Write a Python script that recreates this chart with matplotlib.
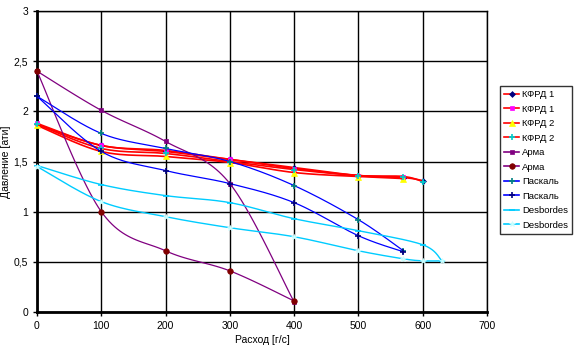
import numpy as np
import matplotlib
matplotlib.use("Agg")
import matplotlib.pyplot as plt
from matplotlib.lines import Line2D
from matplotlib.ticker import FixedLocator, FixedFormatter

plt.rcParams['font.family'] = ['Liberation Sans', 'DejaVu Sans']

# ---- data ----
kfrd1a_x = [0, 100, 200, 300, 400, 500, 570, 600]
kfrd1a_y = [1.87, 1.66, 1.60, 1.52, 1.44, 1.36, 1.34, 1.31]
kfrd1b_x = [0, 100, 200, 300, 400, 500, 570]
kfrd1b_y = [1.88, 1.66, 1.61, 1.52, 1.43, 1.36, 1.35]
kfrd2a_x = [0, 100, 200, 300, 400, 500, 570]
kfrd2a_y = [1.86, 1.60, 1.55, 1.49, 1.39, 1.35, 1.33]
kfrd2b_x = [0, 100, 200, 300, 400, 500, 570, 600]
kfrd2b_y = [1.87, 1.63, 1.58, 1.50, 1.42, 1.36, 1.35, 1.30]
arma1_x = [0, 100, 200, 300, 400]
arma1_y = [2.40, 2.01, 1.70, 1.28, 0.10]
arma2_x = [0, 100, 200, 300, 400]
arma2_y = [2.40, 1.00, 0.61, 0.41, 0.11]
pask1_x = [0, 100, 200, 300, 400, 500, 570]
pask1_y = [2.15, 1.78, 1.63, 1.50, 1.26, 0.92, 0.61]
pask2_x = [0, 100, 200, 300, 400, 500, 570]
pask2_y = [2.15, 1.60, 1.41, 1.28, 1.09, 0.76, 0.60]
desb1_x = [0, 100, 200, 300, 400, 500, 600, 630]
desb1_y = [1.46, 1.27, 1.16, 1.09, 0.93, 0.81, 0.67, 0.51]
desb2_x = [0, 100, 200, 300, 400, 500, 570, 600, 630]
desb2_y = [1.45, 1.10, 0.95, 0.84, 0.75, 0.61, 0.53, 0.51, 0.51]

x_ticks = [0, 100, 200, 300, 400, 500, 600, 700]
y_ticks = [0, 0.5, 1, 1.5, 2, 2.5, 3]
y_tick_labels = ['0', '0,5', '1', '1,5', '2', '2,5', '3']
x_label = 'Расход [г/с]'
y_label = 'Давление [ати]'


def smooth(xs, ys, n=24):
    """Excel-style smoothed line (cubic Bezier, tension 1/6)."""
    p = np.column_stack([xs, ys]).astype(float)
    m = len(p)
    out = [p[0]]
    t = np.linspace(0, 1, n + 1)[1:, None]
    for i in range(m - 1):
        p0 = p[i - 1] if i > 0 else p[i]
        p1, p2 = p[i], p[i + 1]
        p3 = p[i + 2] if i + 2 < m else p[i + 1]
        c1 = p1 + (p2 - p0) / 6.0
        c2 = p2 - (p3 - p1) / 6.0
        seg = ((1 - t) ** 3) * p1 + 3 * ((1 - t) ** 2) * t * c1 + 3 * (1 - t) * t ** 2 * c2 + t ** 3 * p2
        out.extend(seg)
    out = np.array(out)
    idx = list(range(0, len(out), n))
    return out[:, 0], out[:, 1], idx


fig = plt.figure(figsize=(5.8, 3.53), dpi=100)
ax = fig.add_axes([37 / 580, 41 / 353, 450 / 580, 301 / 353])

series = [
    ('КФРД 1', kfrd1a_x, kfrd1a_y, '#FF0000', 1.2, 'D', '#000080', 3),
    ('КФРД 1', kfrd1b_x, kfrd1b_y, '#FF0000', 1.2, 's', '#FF00FF', 3.5),
    ('КФРД 2', kfrd2a_x, kfrd2a_y, '#FF0000', 1.2, '^', '#FFFF00', 4.5),
    ('КФРД 2', kfrd2b_x, kfrd2b_y, '#FF0000', 1.2, '+', '#00CCCC', 5),
    ('Арма', arma1_x, arma1_y, '#800080', 0.9, 's', '#800080', 3),
    ('Арма', arma2_x, arma2_y, '#800080', 0.9, 'o', '#800000', 4),
    ('Паскаль', pask1_x, pask1_y, '#0000FF', 0.9, '+', '#008080', 4),
    ('Паскаль', pask2_x, pask2_y, '#0000FF', 0.9, '+', '#000080', 4),
    ('Desbordes', desb1_x, desb1_y, '#00CCFF', 1.0, '_', '#00CCFF', 5),
    ('Desbordes', desb2_x, desb2_y, '#00CCFF', 1.0, '*', '#CCFFFF', 4),
]

handles = []
for name, xs, ys, col, lw, mk, mc, ms in series:
    sx, sy, idx = smooth(xs, ys)
    ax.plot(sx, sy, color=col, lw=lw, marker=mk, markevery=idx, ms=ms,
            mfc=mc, mec=mc, mew=1.2 if mk in '+_' else 0.5, zorder=3, clip_on=False)
    handles.append(Line2D([], [], color=col, lw=1.2, marker=mk, ms=ms,
                          mfc=mc, mec=mc, mew=1.2 if mk in '+_' else 0.5))

ax.set_xlim(0, 700)
ax.set_ylim(0, 3)
ax.set_xticks(x_ticks)
ax.yaxis.set_major_locator(FixedLocator(y_ticks))
ax.yaxis.set_major_formatter(FixedFormatter(y_tick_labels))
ax.grid(True, color='black', lw=1)
ax.set_axisbelow(True)
for s in ['top', 'right']:
    ax.spines[s].set_linewidth(1)
for s in ['left', 'bottom']:
    ax.spines[s].set_linewidth(2)
ax.tick_params(labelsize=7.5, length=3, direction='out', width=1)
ax.set_xlabel(x_label, fontsize=7.5, labelpad=3)
ax.set_ylabel(y_label, fontsize=7.5)
ax.yaxis.set_label_coords(-0.058, 0.5)

leg = fig.legend(handles, [s[0] for s in series], loc='upper left',
                 bbox_to_anchor=(500 / 580, 1 - 86 / 353), fontsize=6.8,
                 frameon=True, fancybox=False, edgecolor='black',
                 handlelength=1.6, handletextpad=0.3, labelspacing=0.58,
                 borderpad=0.45, borderaxespad=0)
leg.get_frame().set_linewidth(1)

fig.savefig('out.png', dpi=100)
